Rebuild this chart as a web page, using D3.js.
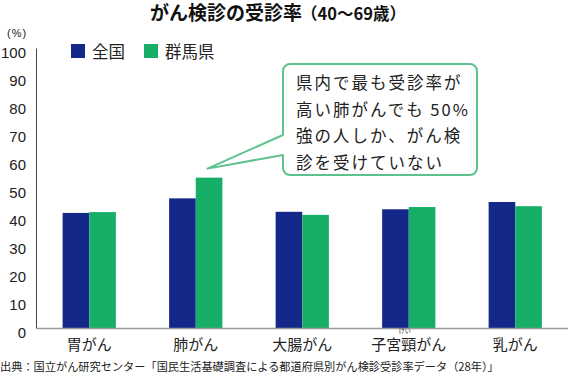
<!DOCTYPE html>
<html>
<head>
<meta charset="utf-8">
<script src="https://cdn.jsdelivr.net/npm/d3@7"></script>
<style>
  body { margin: 0; background: #fff; }
  svg { display: block; font-family: "Noto Sans CJK JP", sans-serif; }
</style>
</head>
<body>
<div id="chart"></div>
<script>
'use strict'

// Data.
const categories = ['胃がん', '肺がん', '大腸がん', '子宮頸がん', '乳がん'];
const seriesNames = ['全国', '群馬県'];
const national = [41.1, 46.3, 41.5, 42.4, 45.0];
const gunma = [41.4, 53.7, 40.4, 43.2, 43.5];
const yTicks = [0, 10, 20, 30, 40, 50, 60, 70, 80, 90, 100];
const rubies = [{category: '子宮頸がん', text: 'けい'}];
const calloutLines = ['県内で最も受診率が', '高い肺がんでも 50%', '強の人しか、がん検', '診を受けていない'];
const titleMain = 'がん検診の受診率';
const titleSub = '（40〜69歳）';
const sourceText = '出典：国立がん研究センター「国民生活基礎調査による都道府県別がん検診受診率データ（28年）」';

const width = 568, height = 376;
const margin = {top: 48, right: 0, bottom: 48, left: 36};
const colors = ['#14288a', '#17ae67'];
const calloutColor = '#5ec28f';

const svg = d3.select('#chart')
    .append('svg')
        .attr('width', width)
        .attr('height', height)
        .attr('viewBox', [0, 0, width, height]);

// Scales
const x = d3.scaleBand()
    .domain(categories)
    .range([margin.left, width - margin.right + 0.5])
    .paddingInner(0.5)
    .paddingOuter(0.25);

const xSub = d3.scaleBand()
    .domain(seriesNames)
    .range([0, x.bandwidth()]);

const y = d3.scaleLinear()
    .domain([0, 100])
    .range([height - margin.bottom, margin.top]);

const color = d3.scaleOrdinal().domain(seriesNames).range(colors);

// Title
svg.append('text')
    .attr('x', 150)
    .attr('y', 19.5)
    .attr('font-weight', 'bold')
    .attr('fill', '#111')
    .call(t => t.append('tspan').attr('font-size', 19).text(titleMain))
    .call(t => t.append('tspan').attr('font-size', 16.5).attr('dx', -1).text(titleSub));

// Unit
svg.append('text')
    .attr('x', 7)
    .attr('y', 37)
    .attr('font-family', '"Liberation Sans", Arial, sans-serif')
    .attr('font-size', 11)
    .attr('letter-spacing', 1)
    .attr('fill', '#222')
    .text('(%)');

// Y axis
svg.append('g')
    .attr('transform', `translate(${margin.left},0)`)
    .call(d3.axisLeft(y).tickValues(yTicks).tickSize(0).tickPadding(10))
    .call(g => g.select('.domain').attr('stroke', '#444').attr('stroke-width', 1))
    .call(g => g.selectAll('.tick text')
        .attr('transform', 'translate(0,4.5)')
        .attr('font-family', '"Liberation Sans", Arial, sans-serif')
        .attr('font-size', 15)
        .attr('fill', '#222'));

// Bars
const groups = svg.append('g').attr('class', 'bars')
    .selectAll('g')
    .data(categories.map((c, i) => ({category: c, values: [national[i], gunma[i]]})))
    .join('g')
        .attr('transform', d => `translate(${x(d.category)},0)`);

groups.selectAll('rect')
    .data(d => d.values.map((v, j) => ({name: seriesNames[j], value: v})))
    .join('rect')
        .attr('x', d => xSub(d.name))
        .attr('y', d => y(d.value))
        .attr('width', xSub.bandwidth())
        .attr('height', d => y(0) - y(d.value))
        .attr('fill', d => color(d.name));

// X axis (baseline)
svg.append('g')
    .attr('transform', `translate(0,${y(0)})`)
    .call(d3.axisBottom(x).tickSize(0))
    .call(g => g.select('.domain').attr('stroke', '#999').attr('stroke-width', 1.5))
    .call(g => g.selectAll('.tick text')
        .attr('y', 22)
        .attr('dy', 0)
        .attr('font-family', '"Noto Sans CJK JP", sans-serif')
        .attr('font-size', 15)
        .attr('fill', '#222'));

// Ruby
svg.selectAll('text.ruby')
    .data(rubies)
    .join('text')
        .attr('class', 'ruby')
        .attr('x', d => x(d.category) + x.bandwidth() / 2 - 4)
        .attr('y', 333)
        .attr('text-anchor', 'middle')
        .attr('font-size', 6)
        .attr('fill', '#222')
        .text(d => d.text);

// Legend
const legend = svg.append('g').attr('class', 'legend')
    .selectAll('g')
    .data(seriesNames)
    .join('g')
        .attr('transform', (d, i) => `translate(${71 + i * 73},44)`);

legend.append('rect')
    .attr('width', 14)
    .attr('height', 14)
    .attr('fill', d => color(d));

legend.append('text')
    .attr('x', 21)
    .attr('y', 13.5)
    .attr('font-size', 16.5)
    .attr('fill', '#222')
    .text(d => d);

// Callout box with pointer towards the Gunma lung bar
const bx0 = 283, bx1 = 477, by0 = 64, by1 = 175, r = 7;
const tip = [x('肺がん') + x.bandwidth() * 0.72, y(gunma[1]) - 9];
const path = d3.path();
path.moveTo(bx0 + r, by0);
path.lineTo(bx1 - r, by0);
path.arcTo(bx1, by0, bx1, by0 + r, r);
path.lineTo(bx1, by1 - r);
path.arcTo(bx1, by1, bx1 - r, by1, r);
path.lineTo(bx0 + r, by1);
path.arcTo(bx0, by1, bx0, by1 - r, r);
path.lineTo(bx0, 155);
path.lineTo(tip[0], tip[1]);
path.lineTo(bx0, 135);
path.lineTo(bx0, by0 + r);
path.arcTo(bx0, by0, bx0 + r, by0, r);
path.closePath();

svg.append('path')
    .attr('d', path.toString())
    .attr('fill', '#fff')
    .attr('stroke', calloutColor)
    .attr('stroke-width', 2)
    .attr('stroke-linejoin', 'round');

svg.append('g').attr('class', 'callout-text')
    .selectAll('text')
    .data(calloutLines)
    .join('text')
        .attr('x', 296)
        .attr('y', (d, i) => 89 + i * 26.7)
        .attr('font-size', 16.5)
        .attr('letter-spacing', 2)
        .attr('fill', '#222')
        .text(d => d);

// Source
svg.append('text')
    .attr('x', 0)
    .attr('y', 371)
    .attr('font-size', 11.2)
    .attr('fill', '#222')
    .text(sourceText);
</script>
</body>
</html>
